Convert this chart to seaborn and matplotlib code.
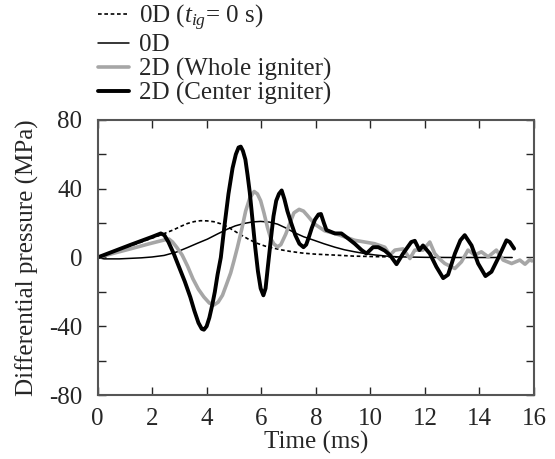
import numpy as np
import pandas as pd
import matplotlib
matplotlib.use('Agg')
import matplotlib.pyplot as plt
import seaborn as sns

# 0D, ignition at t = 0
t_0d_ig0 = [0, 0.5, 1.0, 1.5, 2.0, 2.3, 2.55, 2.8, 3.05, 3.3, 3.55, 3.78, 4.02, 4.27, 4.52, 4.76,
            5.0, 5.25, 5.55, 5.86, 6.15, 6.47, 6.75, 7.08, 7.5, 7.94, 8.3, 8.7, 9.4, 10.2, 11.0]
p_0d_ig0 = [0, 2.8, 5.6, 8.4, 11.3, 13.0, 14.6, 16.2, 18.1, 19.8, 20.9, 21.4, 21.3, 20.8, 19.6, 17.9,
            15.6, 13.2, 10.5, 8.2, 6.6, 5.4, 4.4, 3.5, 2.6, 2.0, 1.7, 1.4, 0.8, 0.5, 0.3]

# 0D
t_0d = [0, 0.24, 0.8, 1.6, 2.0, 2.44, 2.9, 3.3, 3.65, 4.03, 4.4, 4.76, 5.05, 5.37, 5.68, 5.98,
        6.3, 6.6, 6.9, 7.2, 7.55, 7.94, 8.3, 8.7, 9.05, 9.43, 9.8, 10.16, 10.6, 11.0, 12.0, 13.0, 14.0, 15.2]
p_0d = [0, -0.8, -0.8, -0.2, 0.3, 1.2, 3.2, 5.8, 8.2, 10.7, 13.7, 16.5, 18.4, 19.8, 20.7, 21.0,
        20.6, 19.4, 17.2, 14.6, 12.1, 10.0, 8.0, 6.0, 4.5, 3.3, 2.3, 1.5, 0.8, 0.4, 0.1, 0.0, 0.0, 0.0]

# 2D, whole igniter
t_whole = [0, 1.2, 1.9, 2.32, 2.5, 2.62, 2.75, 2.9, 3.1, 3.3, 3.5, 3.7, 3.9, 4.1, 4.27, 4.42, 4.58,
           4.72, 4.88, 5.0, 5.13, 5.28, 5.43, 5.58, 5.74, 5.86, 5.98, 6.1, 6.23, 6.35, 6.47, 6.6,
           6.72, 6.9, 7.05, 7.2, 7.39, 7.55, 7.69, 7.85, 8.0, 8.33, 8.7, 9.06, 9.43, 9.8, 10.16,
           10.53, 10.72, 10.9, 11.2, 11.45, 11.63, 11.93, 12.18, 12.36, 12.55, 12.73, 13.1, 13.34,
           13.58, 13.83, 14.07, 14.32, 14.62, 14.87, 15.18, 15.48, 15.67, 15.85, 15.92]
p_whole = [0, 5.0, 8.0, 9.7, 10.4, 10.7, 9.0, 6.0, 1.5, -5.0, -12.5, -18.5, -23.0, -26.5, -27.6, -26.0,
           -22.0, -16.0, -9.0, -2.0, 6.0, 16.0, 27.0, 34.5, 38.4, 37.0, 33.0, 26.0, 17.5, 11.0, 7.8,
           6.2, 7.5, 13.6, 20.0, 26.0, 28.0, 27.0, 24.5, 21.5, 19.0, 15.5, 14.0, 12.0, 10.0, 9.0, 8.0,
           6.0, 1.4, 4.3, 5.0, -0.6, 4.3, 4.3, 9.0, 2.3, -1.0, -3.5, -6.4, -2.5,
           4.3, 1.4, 3.3, 0.4, 4.3, -1.5, -3.5, -1.5, -3.9, -1.2, -2.0]

# 2D, center igniter
t_center = [0, 1.2, 2.0, 2.32, 2.45, 2.6, 2.8, 3.0, 3.2, 3.4, 3.55, 3.7, 3.82, 3.9, 4.0, 4.1, 4.2,
            4.3, 4.4, 4.52, 4.65, 4.8, 4.95, 5.07, 5.17, 5.25, 5.33, 5.42, 5.5, 5.58, 5.68, 5.78,
            5.88, 5.98, 6.08, 6.16, 6.24, 6.35, 6.45, 6.55, 6.65, 6.75, 6.85, 6.96, 7.1, 7.25,
            7.4, 7.55, 7.65, 7.75, 7.85, 7.97, 8.1, 8.19, 8.3, 8.39, 8.7, 8.94, 9.19, 9.43, 9.68,
            9.86, 10.1, 10.29, 10.53, 10.72, 10.96, 11.2, 11.5, 11.63, 11.8, 11.93, 12.18, 12.42,
            12.67, 12.85, 13.1, 13.3, 13.46, 13.71, 13.95, 14.22, 14.44, 14.68, 14.99, 15.11, 15.27]
p_center = [0, 7.3, 12.0, 14.0, 13.0, 9.0, 2.0, -6.0, -14.0, -23.0, -31.0, -38.0, -41.5, -42.0, -40.0,
            -35.0, -28.0, -20.0, -10.0, 0.0, 18.0, 37.0, 52.0, 60.0, 64.0, 64.5, 62.0, 57.0, 48.0,
            38.0, 22.0, 6.0, -8.0, -18.0, -22.0, -18.0, -6.0, 10.0, 24.0, 33.0, 37.0, 39.0, 34.0,
            27.0, 20.0, 13.0, 8.0, 6.0, 7.5, 12.0, 17.0, 22.0, 25.0, 25.3, 20.0, 16.0, 14.0, 14.0,
            11.0, 8.0, 4.3, 2.3, 6.0, 6.0, 4.0, 1.4, -3.9, 2.3, 9.0, 9.7, 4.3, 7.0, 2.3, -5.4,
            -12.0, -10.0, 2.3, 10.0, 13.0, 7.0, -3.5, -10.8, -8.3, -0.6, 10.0, 9.0, 5.2]

sns.set_style('ticks')
plt.rcParams['font.family'] = ['Liberation Serif', 'DejaVu Serif']
plt.rcParams['mathtext.fontset'] = 'custom'
plt.rcParams['mathtext.rm'] = 'Liberation Serif'
plt.rcParams['mathtext.it'] = 'Liberation Serif:italic'

fig = plt.figure(figsize=(5.55, 4.59), dpi=100)
ax = fig.add_axes([0.1757, 0.1394, 0.7865, 0.5992])

sns.lineplot(x=t_0d_ig0, y=p_0d_ig0, ax=ax, color='black', lw=1.2, linestyle=(0, (2.2, 1.6)),
             sort=False, label='0D ($t_{ig}$= 0 s)')
sns.lineplot(x=t_0d, y=p_0d, ax=ax, color='black', lw=1.1, sort=False, label='0D')
sns.lineplot(x=t_whole, y=p_whole, ax=ax, color='#a6a6a6', lw=2.6, sort=False,
             label='2D (Whole igniter)')
sns.lineplot(x=t_center, y=p_center, ax=ax, color='black', lw=2.8, sort=False,
             label='2D (Center igniter)')
for ln in ax.lines:
    ln.set_solid_joinstyle('round')

ax.set_xlim(0, 16)
ax.set_ylim(-80, 80)
ax.set_xticks(np.arange(0, 17, 2))
ax.set_yticks(np.arange(-80, 81, 20))
ax.set_yticklabels(['-80', '', '-40', '', '0', '', '40', '', '80'])
ax.tick_params(direction='in', length=6, width=1, top=True, right=True, labelsize=18)
ax.tick_params(axis='y', pad=11)
ax.tick_params(axis='x', pad=9)
for s in ax.spines.values():
    s.set_linewidth(1.5)
    s.set_color('#555555')
ax.set_xlabel('Time (ms)', fontsize=18, labelpad=1)
ax.set_ylabel('Differential pressure (MPa)', fontsize=18, labelpad=7)

handles, labels = ax.get_legend_handles_labels()
ax.get_legend().remove()
fig.legend(handles, labels, loc='upper left', bbox_to_anchor=(0.172, 1.0), frameon=False,
           fontsize=18, handlelength=1.25, handletextpad=0.4, labelspacing=0.05,
           borderpad=0.1, borderaxespad=0)

fig.savefig('out.png', dpi=100)
